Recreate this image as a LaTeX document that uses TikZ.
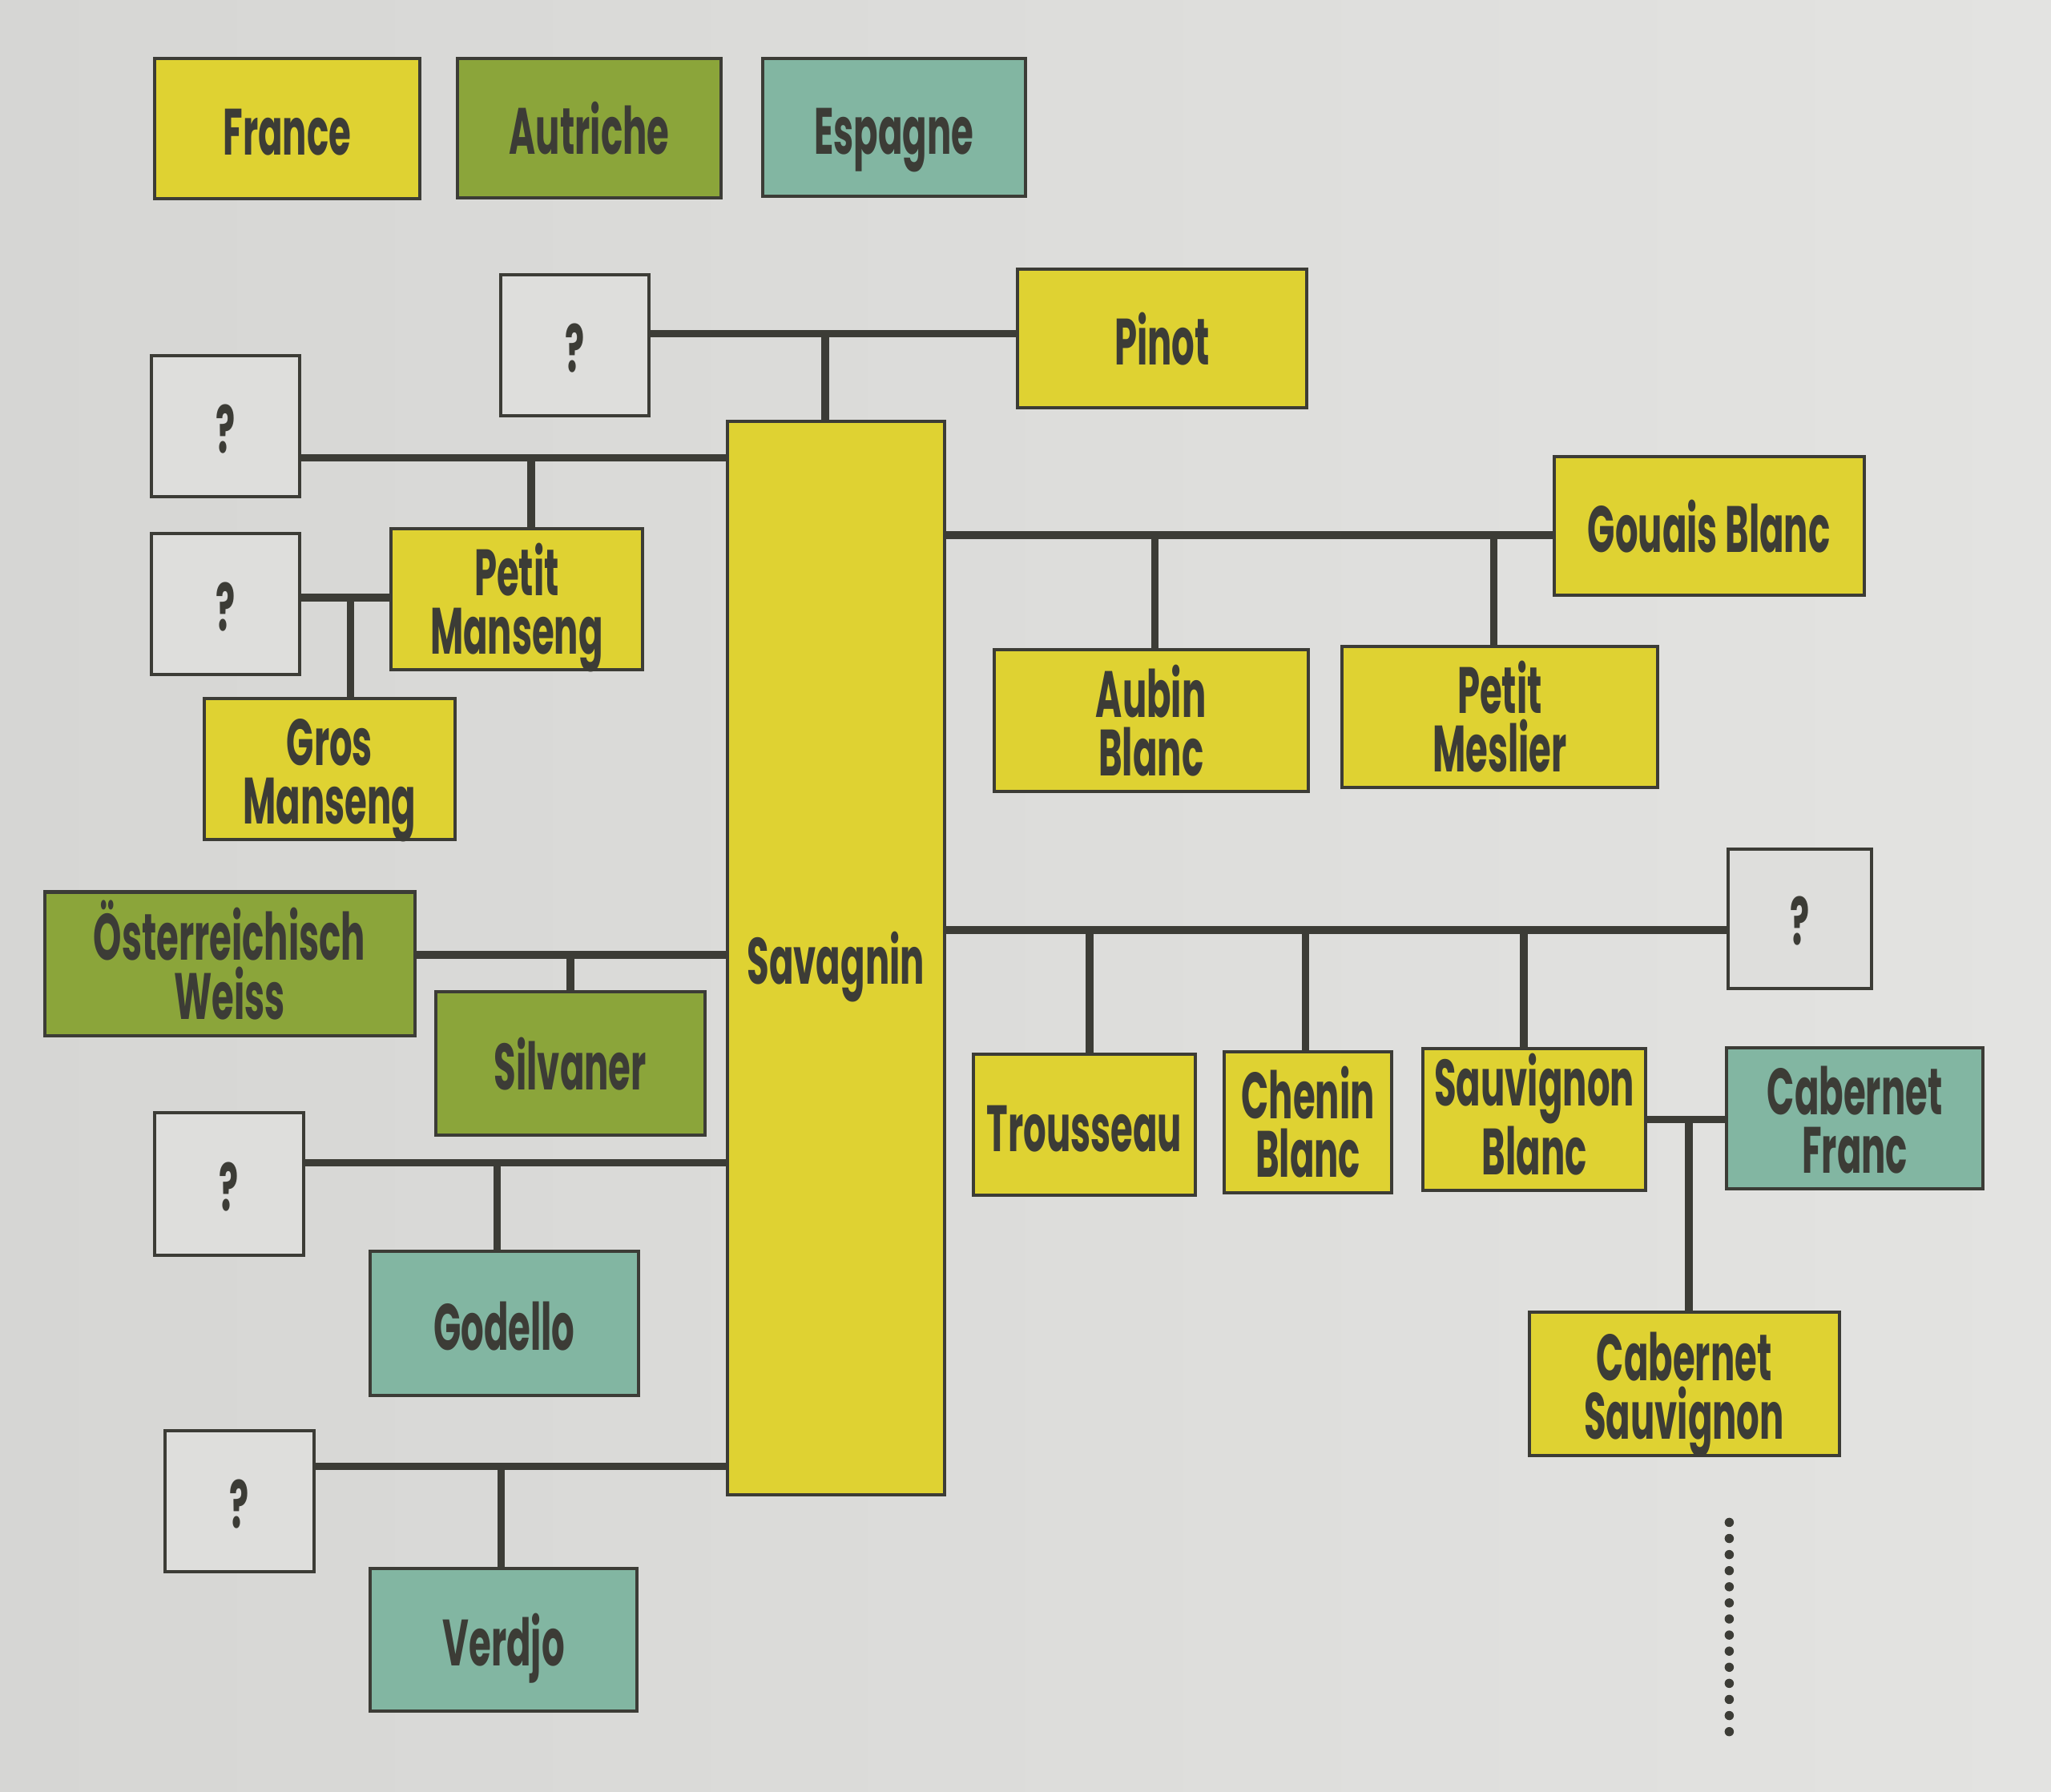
\documentclass[tikz,border=0pt]{standalone}
\usepackage{fontspec}
\newfontfamily\lblfont{Poppins}[FakeStretch=0.55]
\usetikzlibrary{backgrounds,calc}
\definecolor{paperL}{HTML}{D6D6D4}
\definecolor{paperR}{HTML}{E3E3E1}
\definecolor{frY}{HTML}{DFD232}
\definecolor{atG}{HTML}{8BA53A}
\definecolor{esT}{HTML}{82B6A2}
\definecolor{qW}{HTML}{DEDEDC}
\definecolor{ink}{HTML}{3C3C36}
\tikzset{
  box/.style={draw=ink, line width=1.4pt, inner sep=0pt, align=center,
    text=ink, font=\lblfont\bfseries\fontsize{28.5}{25.5}\selectfont, two},
  one/.style={text height=25.5pt, text depth=2.5pt},
  two/.style={text height=51pt, text depth=3pt},
  frbox/.style={box, fill=frY},
  atbox/.style={box, fill=atG},
  esbox/.style={box, fill=esT},
  qbox/.style={box, fill=qW, one},
  link/.style={draw=ink, line width=3.3pt}
}
\begin{document}
\begin{tikzpicture}[x=0.02cm, y=-0.02cm]
\useasboundingbox (0,0) rectangle (1568,1370);
% legend
\node[frbox, one, minimum width=203*0.02cm, minimum height=107*0.02cm] (france) at (219.5,98.5) {France};
\node[atbox, one, minimum width=201*0.02cm, minimum height=106*0.02cm] (autriche) at (450.5,98) {Autriche};
\node[esbox, one, minimum width=201*0.02cm, minimum height=105*0.02cm] (espagne) at (683.5,97.5) {Espagne};
% nodes
\node[qbox, minimum width=113*0.02cm, minimum height=108*0.02cm] (q1) at (439.5,264) {?};
\node[frbox, one, minimum width=221*0.02cm, minimum height=106*0.02cm] (pinot) at (888.5,259) {Pinot};
\node[qbox, minimum width=113*0.02cm, minimum height=108*0.02cm] (q2) at (172.5,326) {?};
\node[frbox, one, minimum width=166*0.02cm, minimum height=821*0.02cm] (sav) at (639,732.5) {Savagnin};
\node[frbox, minimum width=192*0.02cm, minimum height=108*0.02cm] (pman) at (395,458) {Petit\\Manseng};
\node[qbox, minimum width=113*0.02cm, minimum height=108*0.02cm] (q3) at (172.5,462) {?};
\node[frbox, minimum width=192*0.02cm, minimum height=108*0.02cm] (gman) at (252,588) {Gros\\Manseng};
\node[frbox, one, minimum width=237*0.02cm, minimum height=106*0.02cm] (gouais) at (1306.5,402) {Gouais Blanc};
\node[frbox, minimum width=240*0.02cm, minimum height=108*0.02cm] (aubin) at (880,551) {Aubin\\Blanc};
\node[frbox, minimum width=241*0.02cm, minimum height=108*0.02cm] (meslier) at (1146.5,548) {Petit\\Meslier};
\node[atbox, minimum width=283*0.02cm, minimum height=110*0.02cm] (ow) at (175.5,737) {Österreichisch\\Weiss};
\node[atbox, one, minimum width=206*0.02cm, minimum height=110*0.02cm] (silv) at (436,813) {Silvaner};
\node[qbox, minimum width=110*0.02cm, minimum height=107*0.02cm] (q4) at (1376,702.5) {?};
\node[frbox, one, minimum width=170*0.02cm, minimum height=108*0.02cm] (trous) at (829,860) {Trousseau};
\node[frbox, minimum width=128*0.02cm, minimum height=108*0.02cm] (chenin) at (1000,858) {Chenin\\Blanc};
\node[frbox, minimum width=170*0.02cm, minimum height=108*0.02cm] (sauv) at (1173,856) {Sauvignon\\Blanc};
\node[esbox, minimum width=196*0.02cm, minimum height=108*0.02cm] (cfranc) at (1418,855) {Cabernet\\Franc};
\node[frbox, minimum width=237*0.02cm, minimum height=110*0.02cm] (csauv) at (1287.5,1058) {Cabernet\\Sauvignon};
\node[qbox, minimum width=114*0.02cm, minimum height=109*0.02cm] (q5) at (175,905.5) {?};
\node[esbox, one, minimum width=205*0.02cm, minimum height=110*0.02cm] (godello) at (385.5,1012) {Godello};
\node[qbox, minimum width=114*0.02cm, minimum height=108*0.02cm] (q6) at (183,1148) {?};
\node[esbox, one, minimum width=204*0.02cm, minimum height=109*0.02cm] (verdjo) at (385,1253.5) {Verdjo};
% junction coordinates
\coordinate (j1) at (631,255);
\coordinate (j2) at (406,350);
\coordinate (j3) at (268,457);
\coordinate (j4a) at (883,409);
\coordinate (j4b) at (1142,409);
\coordinate (j5) at (436,730);
\coordinate (j6a) at (833,711);
\coordinate (j6b) at (998,711);
\coordinate (j6c) at (1165,711);
\coordinate (j7) at (1291,856);
\coordinate (j8) at (380,889);
\coordinate (j9) at (383,1121);
\coordinate (dtop) at (1322,1164);
\coordinate (dbot) at (1322,1324);
\begin{scope}[on background layer]
\shade[left color=paperL, right color=paperR] (0,0) rectangle (1568,1370);
\draw[link] (q1.east |- j1) -- (pinot.west |- j1);
\draw[link] (j1) -- (sav.north -| j1);
\draw[link] (q2.east |- j2) -- (sav.west |- j2);
\draw[link] (j2) -- (pman.north -| j2);
\draw[link] (q3.east |- j3) -- (pman.west |- j3);
\draw[link] (j3) -- (gman.north -| j3);
\draw[link] (sav.east |- j4a) -- (gouais.west |- j4a);
\draw[link] (j4a) -- (aubin.north -| j4a);
\draw[link] (j4b) -- (meslier.north -| j4b);
\draw[link] (ow.east |- j5) -- (sav.west |- j5);
\draw[link] (j5) -- (silv.north -| j5);
\draw[link] (sav.east |- j6a) -- (q4.west |- j6a);
\draw[link] (j6a) -- (trous.north -| j6a);
\draw[link] (j6b) -- (chenin.north -| j6b);
\draw[link] (j6c) -- (sauv.north -| j6c);
\draw[link] (sauv.east |- j7) -- (cfranc.west |- j7);
\draw[link] (j7) -- (csauv.north -| j7);
\draw[link] (q5.east |- j8) -- (sav.west |- j8);
\draw[link] (j8) -- (godello.north -| j8);
\draw[link] (q6.east |- j9) -- (sav.west |- j9);
\draw[link] (j9) -- (verdjo.north -| j9);
\end{scope}
% dotted continuation
\foreach \k in {0,...,13} {
  \fill[ink] ($(dtop)!\k/13!(dbot)$) circle (2pt);
}
\end{tikzpicture}
\end{document}
